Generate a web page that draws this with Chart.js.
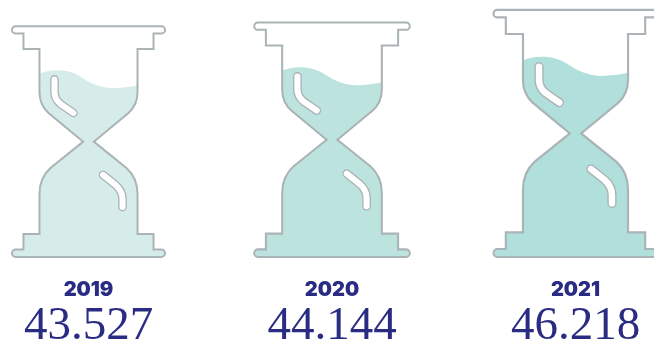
<!DOCTYPE html>
<html>
<head>
<meta charset="utf-8">
<title>Hourglass</title>
<script src="https://cdn.jsdelivr.net/npm/chart.js@4"></script>
<style>
  html, body { margin: 0; padding: 0; background: #fff; overflow: hidden; }
  canvas { display: block; }
</style>
</head>
<body>
<canvas id="myChart" width="654" height="345"></canvas>
<script>
const years = ['2019', '2020', '2021'];
const values = [43.527, 44.144, 46.218];
const sandColors = ['#d5ecea', '#bde3df', '#b1dfdb'];

const valueLabels = values.map(v => v.toFixed(3));

const NAVY = '#2a2c83';
const GLASS = '#aab3b6';
const Y_MIN = 5.9;
const Y_MAX = 47.83;
// height of the drawn glass at scale 1, top of cap to foot
const GLASS_H = 230.5;

// outline around the origin at the middle of the foot
function glassPath(ctx) {
  ctx.beginPath();
  ctx.moveTo(-73, -230.5);
  ctx.lineTo(73, -230.5);
  ctx.arcTo(76.5, -230.5, 76.5, -227, 3.5);
  ctx.arcTo(76.5, -223.5, 73, -223.5, 3.5);
  ctx.lineTo(65, -223.5);
  ctx.lineTo(65, -208);
  ctx.lineTo(49, -208);
  ctx.lineTo(49, -165);
  ctx.quadraticCurveTo(49, -152, 40, -144);
  ctx.lineTo(5.3, -115.3);
  ctx.lineTo(38, -89);
  ctx.quadraticCurveTo(49, -79, 49, -63);
  ctx.lineTo(49, -23);
  ctx.lineTo(65, -23);
  ctx.lineTo(65, -7.5);
  ctx.lineTo(73, -7.5);
  ctx.arcTo(76.5, -7.5, 76.5, -3.75, 3.75);
  ctx.arcTo(76.5, 0, 73, 0, 3.75);
  ctx.lineTo(-73, 0);
  ctx.arcTo(-76.5, 0, -76.5, -3.75, 3.75);
  ctx.arcTo(-76.5, -7.5, -73, -7.5, 3.75);
  ctx.lineTo(-65, -7.5);
  ctx.lineTo(-65, -23);
  ctx.lineTo(-49, -23);
  ctx.lineTo(-49, -63);
  ctx.quadraticCurveTo(-49, -79, -38, -89);
  ctx.lineTo(-5.3, -115.3);
  ctx.lineTo(-40, -144);
  ctx.quadraticCurveTo(-49, -152, -49, -165);
  ctx.lineTo(-49, -208);
  ctx.lineTo(-65, -208);
  ctx.lineTo(-65, -223.5);
  ctx.lineTo(-73, -223.5);
  ctx.arcTo(-76.5, -223.5, -76.5, -227, 3.5);
  ctx.arcTo(-76.5, -230.5, -73, -230.5, 3.5);
  ctx.closePath();
}

function sandPath(ctx) {
  ctx.beginPath();
  ctx.moveTo(-100, -182);
  ctx.lineTo(-50, -183);
  ctx.bezierCurveTo(-38, -188, -20, -189, -6, -179);
  ctx.bezierCurveTo(6, -171, 17, -168.5, 27, -169);
  ctx.quadraticCurveTo(40, -169.5, 50, -172);
  ctx.lineTo(100, -172);
  ctx.lineTo(100, 20);
  ctx.lineTo(-100, 20);
  ctx.closePath();
}

function glint(ctx, draw) {
  ctx.lineCap = 'round';
  ctx.lineJoin = 'round';
  ctx.beginPath();
  draw();
  ctx.strokeStyle = GLASS;
  ctx.lineWidth = 8.6;
  ctx.stroke();
  ctx.strokeStyle = '#fff';
  ctx.lineWidth = 6;
  ctx.stroke();
}

const hourglassPlugin = {
  id: 'hourglass',
  afterDatasetsDraw(chart) {
    const ctx = chart.ctx;
    const bars = chart.getDatasetMeta(0).data;
    bars.forEach((bar, i) => {
      const s = (bar.base - bar.y) / GLASS_H;
      ctx.save();
      ctx.translate(bar.x, bar.base);
      ctx.scale(s, s);

      ctx.save();
      glassPath(ctx);
      ctx.clip();
      sandPath(ctx);
      ctx.fillStyle = sandColors[i];
      ctx.fill();
      ctx.restore();

      glassPath(ctx);
      ctx.strokeStyle = GLASS;
      ctx.lineWidth = 2;
      ctx.lineJoin = 'miter';
      ctx.stroke();

      // upper and lower glass reflections
      glint(ctx, () => {
        ctx.moveTo(-34, -177.5);
        ctx.lineTo(-34, -165);
        ctx.quadraticCurveTo(-34, -158, -28, -153);
        ctx.lineTo(-15, -144);
      });
      glint(ctx, () => {
        ctx.moveTo(14.5, -82);
        ctx.lineTo(27, -72);
        ctx.quadraticCurveTo(34, -66, 34, -58);
        ctx.lineTo(34, -50);
      });
      ctx.restore();
    });
  }
};

// fixed axis height, and no side padding from the outer tick labels
function fitAxis(height) {
  return scale => {
    scale.paddingLeft = 0;
    scale.paddingRight = 0;
    scale.height = height;
  };
}

new Chart(document.getElementById('myChart'), {
  type: 'bar',
  data: {
    labels: years,
    datasets: [{
      data: values,
      base: Y_MIN,
      backgroundColor: 'rgba(0,0,0,0)',
      barThickness: 150
    }]
  },
  options: {
    responsive: false,
    animation: false,
    layout: { padding: { left: 88.5, right: 78.5, top: 0, bottom: 0 } },
    plugins: { legend: { display: false }, tooltip: { enabled: false } },
    scales: {
      y: { display: false, min: Y_MIN, max: Y_MAX },
      x: {
        offset: false,
        weight: 1,
        grid: { display: false, drawTicks: false },
        border: { display: false },
        afterFit: fitAxis(43),
        ticks: {
          color: NAVY, padding: 23, autoSkip: false, maxRotation: 0,
          font: { family: 'Inter', size: 20, weight: '900', lineHeight: 1 }
        }
      },
      x2: {
        type: 'category',
        labels: valueLabels,
        position: 'bottom',
        offset: false,
        weight: 2,
        grid: { display: false, drawTicks: false },
        border: { display: false },
        afterFit: fitAxis(45),
        ticks: {
          color: NAVY, padding: 3.5, autoSkip: false, maxRotation: 0,
          font: { family: 'Liberation Serif', size: 47, lineHeight: 1 }
        }
      }
    }
  },
  plugins: [hourglassPlugin]
});
</script>
</body>
</html>
